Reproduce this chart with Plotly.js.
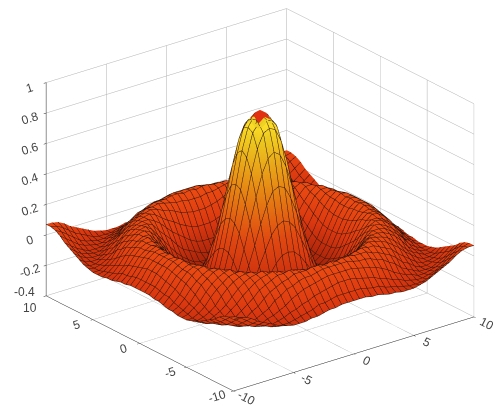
<!DOCTYPE html>
<html><head><meta charset="utf-8">
<script src="https://cdn.plot.ly/plotly-3.0.1.min.js"></script>
<style>html,body{margin:0;padding:0;background:#fff}#c{width:496px;height:412px}</style>
</head><body><div id="c"></div>
<script>
const gridValues=[-10,-9.5,-9,-8.5,-8,-7.5,-7,-6.5,-6,-5.5,-5,-4.5,-4,-3.5,-3,-2.5,-2,-1.5,-1,-0.5,0,0.5,1,1.5,2,2.5,3,3.5,4,4.5,5,5.5,6,6.5,7,7.5,8,8.5,9,9.5,10];
const xTicks=[-10,-5,0,5,10];
const yTicks=[-10,-5,0,5,10];
const yLabels=['-10','-5','0','5',''];
const zTicks=[-0.4,-0.2,0,0.2,0.4,0.6,0.8,1];
const zLabels=['','-0.2','0','0.2','0.4','0.6','0.8','1'];
// one quadrant of heights (centre outward); the other three mirror it
const quadrantHeights=[
[null,.86,.80,.66,.45,.24,.05,-.10,-.19,-.22,-.19,-.13,-.05,.03,.09,.13,.12,.09,.05,-.01,-.05],
[.86,.83,.78,.63,.43,.22,.04,-.11,-.19,-.22,-.19,-.13,-.05,.03,.09,.12,.12,.09,.05,-.01,-.05],
[.80,.78,.69,.54,.35,.17,0,-.13,-.20,-.21,-.18,-.12,-.04,.04,.10,.13,.12,.09,.04,-.01,-.05],
[.66,.63,.54,.40,.24,.08,-.06,-.16,-.21,-.21,-.16,-.10,-.02,.05,.10,.13,.11,.08,.03,-.02,-.06],
[.45,.43,.35,.24,.11,-.01,-.12,-.19,-.22,-.20,-.14,-.07,0,.07,.11,.12,.10,.07,.02,-.03,-.06],
[.24,.22,.17,.08,-.01,-.11,-.17,-.21,-.21,-.17,-.12,-.04,.03,.09,.12,.12,.10,.06,.01,-.03,-.07],
[.05,.04,0,-.06,-.12,-.17,-.20,-.21,-.19,-.14,-.08,-.01,.05,.10,.13,.12,.09,.05,-.01,-.05,-.08],
[-.10,-.11,-.13,-.16,-.19,-.21,-.21,-.19,-.15,-.10,-.03,.03,.08,.12,.12,.10,.07,.03,-.02,-.06,-.08],
[-.19,-.19,-.20,-.21,-.22,-.21,-.19,-.15,-.11,-.05,.01,.07,.11,.13,.12,.09,.06,.01,-.04,-.07,-.09],
[-.22,-.22,-.21,-.21,-.20,-.17,-.14,-.10,-.05,0,.05,.10,.13,.12,.10,.07,.03,-.02,-.05,-.08,-.09],
[-.19,-.19,-.18,-.16,-.14,-.12,-.08,-.03,.01,.05,.10,.12,.12,.11,.08,.05,.01,-.04,-.07,-.09,-.09],
[-.13,-.13,-.12,-.10,-.07,-.04,-.01,.03,.07,.10,.12,.12,.11,.09,.06,.02,-.03,-.06,-.08,-.09,-.08],
[-.05,-.05,-.04,-.02,0,.03,.05,.08,.11,.13,.12,.11,.09,.06,.02,-.02,-.05,-.07,-.09,-.09,-.07],
[.03,.03,.04,.05,.07,.09,.10,.12,.13,.12,.11,.09,.06,.03,-.01,-.04,-.07,-.09,-.09,-.08,-.05],
[.09,.09,.10,.10,.11,.12,.13,.12,.12,.10,.08,.06,.02,-.01,-.04,-.07,-.09,-.09,-.08,-.06,-.03],
[.13,.12,.13,.13,.12,.12,.12,.10,.09,.07,.05,.02,-.02,-.04,-.07,-.09,-.09,-.08,-.07,-.04,-.01],
[.12,.12,.12,.11,.10,.10,.09,.07,.06,.03,.01,-.03,-.05,-.07,-.09,-.09,-.09,-.07,-.05,-.02,.01],
[.09,.09,.09,.08,.07,.06,.05,.03,.01,-.02,-.04,-.06,-.07,-.09,-.09,-.08,-.07,-.05,-.02,.01,.04],
[.05,.05,.04,.03,.02,.01,-.01,-.02,-.04,-.05,-.07,-.08,-.09,-.09,-.08,-.07,-.05,-.02,.01,.04,.06],
[-.01,-.01,-.01,-.02,-.03,-.03,-.05,-.06,-.07,-.08,-.09,-.09,-.09,-.08,-.06,-.04,-.02,.01,.04,.06,.07],
[-.05,-.05,-.05,-.06,-.06,-.07,-.08,-.08,-.09,-.09,-.09,-.08,-.07,-.05,-.03,-.01,.01,.04,.06,.07,.07]
];
// the small red cap at the tip of the peak
const capGrid=[-0.5,0,0.5];
const capHeights=[[.83,.86,.83],[.86,.89,.86],[.83,.86,.83]];
const mirrorRow=r=>r.slice(1).reverse().concat(r);
const halfRows=quadrantHeights.map(mirrorRow);
const zGrid=halfRows.slice(1).reverse().concat(halfRows);
const colors=[[0,'#a8240a'],[0.15,'#dc3810'],[0.3,'#ec4c12'],[0.55,'#f28c14'],[0.8,'#f8d020'],[1,'#fff030']];
const tickFont={family:'Liberation Sans, Arial, sans-serif',size:12,color:'#444'};
const axisBase={showbackground:false,showgrid:true,gridcolor:'#b0b0b0',gridwidth:1,zeroline:false,
  showline:true,linecolor:'#222',linewidth:1,ticks:'outside',ticklen:3,tickcolor:'#222',
  tickfont:tickFont,showspikes:false,title:{text:''}};
const lightingSoft={ambient:0.95,diffuse:0.25,specular:0.03,roughness:0.9,fresnel:0};
const data=[{type:'surface',x:gridValues,y:gridValues,z:zGrid,colorscale:colors,cmin:-0.22,cmax:0.96,showscale:false,
  lighting:lightingSoft,
  contours:{x:{show:true,start:-10,end:10,size:0.5,color:'#2e140a',width:1},
            y:{show:true,start:-10,end:10,size:0.5,color:'#2e140a',width:1},z:{show:false}},hoverinfo:'skip'},
 {type:'surface',x:capGrid,y:capGrid,z:capHeights,colorscale:[[0,'#e03010'],[1,'#e03010']],showscale:false,lighting:lightingSoft,hoverinfo:'skip'}];
const layout={width:496,height:412,margin:{l:0,r:0,t:0,b:0},paper_bgcolor:'#fff',showlegend:false,
 scene:{domain:{x:[0,1],y:[0,1]},aspectmode:'manual',aspectratio:{x:1.48,y:1.48,z:1.127},
  camera:{projection:{type:'orthographic'},up:{x:0,y:0,z:1},center:{x:-0.046,y:0.036,z:-0.033},eye:{x:-1.044,y:-1.246,z:0.667}},
  xaxis:{...axisBase,range:[-10,10],tickvals:xTicks,ticktext:xTicks.map(String)},
  yaxis:{...axisBase,range:[-10,10],tickvals:yTicks,ticktext:yLabels},
  zaxis:{...axisBase,range:[-0.4,1],tickvals:zTicks,ticktext:zLabels},
  annotations:[
   {x:-10,y:10,z:-0.4,text:'-0.4',showarrow:false,xshift:-22,yshift:4,font:tickFont},
   {x:-10,y:10,z:-0.4,text:'10',showarrow:false,xshift:-16,yshift:-12,font:tickFont}]}};
Plotly.newPlot('c',data,layout,{displayModeBar:false});
</script></body></html>
